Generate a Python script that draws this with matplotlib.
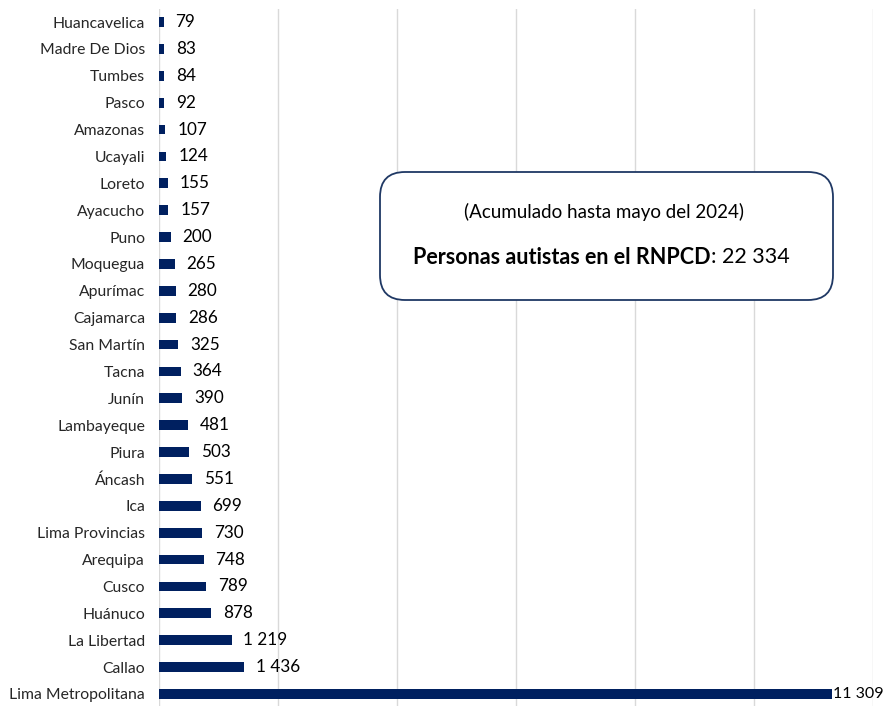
import matplotlib
matplotlib.use("Agg")
import matplotlib.pyplot as plt
from matplotlib.patches import FancyBboxPatch

plt.rcParams['font.family'] = ['Lato', 'DejaVu Sans']

regions = ["Huancavelica", "Madre De Dios", "Tumbes", "Pasco", "Amazonas", "Ucayali",
           "Loreto", "Ayacucho", "Puno", "Moquegua", "Apurímac", "Cajamarca", "San Martín",
           "Tacna", "Junín", "Lambayeque", "Piura", "Áncash", "Ica", "Lima Provincias",
           "Arequipa", "Cusco", "Huánuco", "La Libertad", "Callao", "Lima Metropolitana"]
personas = [79, 83, 84, 92, 107, 124, 155, 157, 200, 265, 280, 286, 325,
            364, 390, 481, 503, 551, 699, 730, 748, 789, 878, 1219, 1436, 11309]

navy = "#002060"

fig = plt.figure(figsize=(8.83, 7.06), dpi=100)
ax = fig.add_axes([159 / 883, -1.4 / 706, 714 / 883, 698.8 / 706])

ypos = list(range(len(regions)))
ax.barh(ypos, personas, height=0.36, color=navy, zorder=3)
ax.set_ylim(len(regions) - 0.5, -0.5)
ax.set_xlim(0, 12000)
ax.set_xticks(range(0, 12001, 2000))
ax.set_xticklabels([])
ax.tick_params(axis='x', length=0)
ax.set_yticks(ypos)
ax.set_yticklabels(regions, fontsize=11.3, color="#262626")
ax.tick_params(axis='y', length=0, pad=10)
ax.grid(axis='x', color="#d9d9d9", linewidth=1, zorder=0)
for s in ax.spines.values():
    s.set_visible(False)


def fmt(v):
    return f"{v:,}".replace(",", " ")


for y, v in zip(ypos, personas):
    big = v > 5000
    ax.annotate(fmt(v), (v, y), xytext=(1 if big else 8.5, 0), textcoords="offset points",
                va="center", ha="left", fontsize=11.5 if big else 12.3, color="#000000",
                annotation_clip=False)

box = FancyBboxPatch((3.80, 4.06), 4.53, 1.28, boxstyle="round,pad=0,rounding_size=0.25",
                     transform=fig.dpi_scale_trans, facecolor="white",
                     edgecolor="#1f3864", linewidth=1.3, zorder=5)
fig.patches.append(box)

fig.text(604 / 883, 1 - 212 / 706, "(Acumulado hasta mayo del 2024)", ha="center",
         va="center", fontsize=13.5, color="#000000", zorder=6)
fig.text(711 / 883, 1 - 257 / 706, "Personas autistas en el RNPCD", ha="right",
         va="center", fontsize=15.5, fontweight="bold", color="#000000", zorder=6)
fig.text(711 / 883, 1 - 257 / 706, ": 22 334", ha="left",
         va="center", fontsize=15.5, color="#000000", zorder=6)

fig.savefig("out.png", dpi=100)
